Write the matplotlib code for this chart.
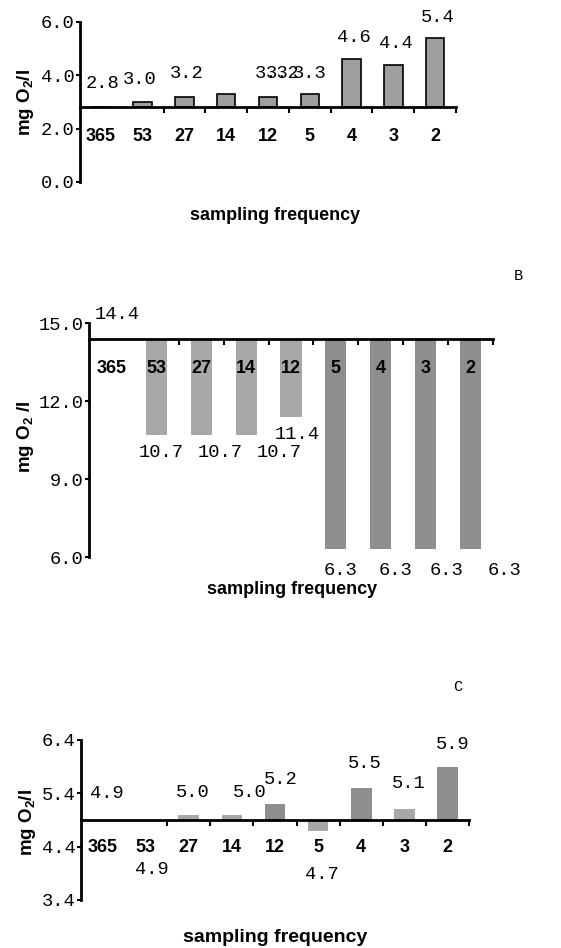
import numpy as np
import matplotlib
matplotlib.use("Agg")
import matplotlib.pyplot as plt
from matplotlib.ticker import FixedLocator, NullFormatter, FixedFormatter

plt.rcParams['mathtext.fontset'] = 'custom'
plt.rcParams['mathtext.rm'] = 'Liberation Sans'
plt.rcParams['mathtext.bf'] = 'Liberation Sans:bold'

# sampling frequency (samples per year) and mean mg O2/l per panel
categories = ['365', '53', '27', '14', '12', '5', '4', '3', '2']
panel_a_values = [2.8, 3.0, 3.2, 3.3, 3.2, 3.3, 4.6, 4.4, 5.4]
panel_b_values = [14.4, 10.7, 10.7, 10.7, 11.4, 6.3, 6.3, 6.3, 6.3]
panel_c_values = [4.9, 4.9, 5.0, 5.0, 5.2, 4.7, 5.5, 5.1, 5.9]

panel_a_yticks = [0.0, 2.0, 4.0, 6.0]
panel_b_yticks = [6.0, 9.0, 12.0, 15.0]
panel_c_yticks = [3.4, 4.4, 5.4, 6.4]

W, H = 561, 948
MONO = 'Liberation Mono'
SANS = 'Liberation Sans'
NUM_SIZE = 13.5

fig = plt.figure(figsize=(W / 100, H / 100), dpi=100)


def px_rect(left, right, top, bottom):
    return [left / W, 1 - bottom / H, (right - left) / W, (bottom - top) / H]


def draw_panel(rect, values, yticks, width, colors, edge, label_offsets,
               cat_pad, ylabel, ylabel_xy, xlabel_xy, xlabel_size):
    ax = fig.add_axes(px_rect(*rect))
    x = np.arange(len(values))
    base = values[0]
    heights = [v - base for v in values]
    ax.bar(x, heights, bottom=base, width=width, color=colors,
           edgecolor=edge, linewidth=1.2 if edge != 'none' else 0, zorder=1)

    ax.set_xlim(-0.5, len(values) - 0.5)
    ax.set_ylim(yticks[0], yticks[-1])
    for s in ['top', 'right']:
        ax.spines[s].set_visible(False)
    ax.spines['left'].set_linewidth(2)
    ax.spines['bottom'].set_linewidth(2)
    ax.spines['bottom'].set_position(('data', base))

    ax.xaxis.set_major_locator(FixedLocator(x[1:] + 0.5))
    ax.xaxis.set_major_formatter(NullFormatter())
    ax.xaxis.set_minor_locator(FixedLocator(x))
    ax.xaxis.set_minor_formatter(FixedFormatter(categories))
    ax.tick_params(axis='x', which='major', direction='out', length=4,
                   width=1.5)
    ax.tick_params(axis='x', which='minor', length=0, pad=cat_pad)
    for t in ax.get_xminorticklabels():
        t.set_fontfamily(SANS)
        t.set_fontweight('bold')
        t.set_fontsize(13)

    ax.set_yticks(yticks)
    ax.set_yticklabels(['%.1f' % v for v in yticks], family=MONO,
                       fontsize=NUM_SIZE)
    ax.tick_params(axis='y', direction='out', length=3, width=1.5, pad=1)

    for i, v in enumerate(values):
        dx, dy = label_offsets[i]
        ax.annotate('%.1f' % v, xy=(i, v), xytext=(dx, dy),
                    textcoords='offset pixels', ha='center', va='center',
                    family=MONO, fontsize=NUM_SIZE, annotation_clip=False)

    ax.set_ylabel(ylabel, family=SANS, fontweight='bold', fontsize=13.5)
    ax.yaxis.set_label_coords(ylabel_xy[0] / W, 1 - ylabel_xy[1] / H,
                              transform=fig.transFigure)
    ax.yaxis.label.set_va('center')
    ax.set_xlabel('sampling frequency', family=SANS, fontweight='bold',
                  fontsize=xlabel_size)
    ax.xaxis.set_label_coords(xlabel_xy[0] / W, 1 - xlabel_xy[1] / H,
                              transform=fig.transFigure)
    ax.xaxis.label.set_va('center')
    return ax


draw_panel((80, 456, 22, 182), panel_a_values, panel_a_yticks, 0.44,
           '#9e9e9e', 'black',
           [(2, 24), (-3, 23), (2, 23), (45, 20), (15, 23), (0, 20),
            (2, 22), (3, 21), (3, 21)],
           15, 'mg O$_\\mathbf{2}$/l', (25, 102), (275, 216), 13)

draw_panel((89, 493, 323, 557), panel_b_values, panel_b_yticks, 0.47,
           ['#a8a8a8'] * 5 + ['#8e8e8e'] * 4, 'none',
           [(6, 24), (5, -18), (19, -18), (33, -18), (6, -18), (5, -21),
            (15, -21), (21, -21), (34, -21)],
           15.5, 'mg O$_\\mathbf{2}$ /l', (25, 437), (292, 590), 13)

draw_panel((81, 469, 740, 900), panel_c_values, panel_c_yticks, 0.48,
           ['#a8a8a8', '#a8a8a8', '#a8a8a8', '#a8a8a8', '#8e8e8e',
            '#a8a8a8', '#8e8e8e', '#a8a8a8', '#8e8e8e'], 'none',
           [(4, 27), (6, -49), (4, 22), (18, 22), (6, 24), (4, -44),
            (3, 25), (4, 26), (5, 22)],
           14, 'mg O$_\\mathbf{2}$/l', (27, 822), (275, 938), 14)

fig.text(518 / W, 1 - 276 / H, 'B', family=MONO, fontsize=11,
         ha='center', va='center')
fig.text(458 / W, 1 - 687 / H, 'C', family=MONO, fontsize=11,
         ha='center', va='center')

fig.savefig('out.png', dpi=100)
